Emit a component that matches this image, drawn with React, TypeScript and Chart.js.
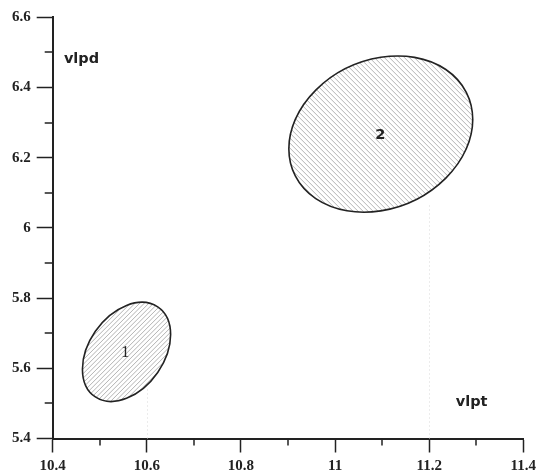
import React, { useEffect, useRef } from 'react';
import { Chart, registerables } from 'chart.js';

Chart.register(...registerables);

// ---- data ----
const xTicks = [10.4, 10.6, 10.8, 11, 11.2, 11.4];
const yTicks = [5.4, 5.6, 5.8, 6, 6.2, 6.4, 6.6];

// regions: centre and two conjugate semi-diameters (data units)
const regionNames = ['1', '2'];
const regionCX = [10.5569, 11.0972];
const regionCY = [5.6468, 6.2673];
const regionAX = [0.0937, 0.1954]; // semi-diameter to the rightmost point
const regionAY = [0.0492, 0.0415];
const regionBX = [0, 0]; // conjugate (vertical) semi-diameter
const regionBY = [0.1324, 0.2187];

const regionLabelX = [10.5544, 11.0963];
const regionLabelY = [5.6441, 6.2643];

const axisNames = ['vlpd', 'vlpt'];
const axisNameX = [10.4238, 11.2564];
const axisNameY = [6.47, 5.492];

const dropLineX = [10.6, 11.2];
const dropLineTop = [5.54, 6.07];

// ---- styles ----
const INK = '#222';
const hatchDir = ['/', '\\'];
const hatchStep = [4.6, 5];
const regionLabelFont = ['16px "Liberation Serif", serif', 'bold 14.5px "DejaVu Sans", sans-serif'];
const axisNameFont = 'bold 14.5px "DejaVu Sans", sans-serif';
const tickFont = { family: '"Liberation Serif", serif', weight: 'bold' as const, size: 15 };

function regionPath(ctx: CanvasRenderingContext2D, xs: any, ys: any, i: number) {
  const cx = xs.getPixelForValue(regionCX[i]);
  const cy = ys.getPixelForValue(regionCY[i]);
  const ax = xs.getPixelForValue(regionCX[i] + regionAX[i]) - cx;
  const ay = ys.getPixelForValue(regionCY[i] + regionAY[i]) - cy;
  const bx = xs.getPixelForValue(regionCX[i] + regionBX[i]) - cx;
  const by = ys.getPixelForValue(regionCY[i] + regionBY[i]) - cy;
  ctx.save();
  ctx.transform(ax, ay, bx, by, cx, cy);
  ctx.beginPath();
  ctx.arc(0, 0, 1, 0, Math.PI * 2);
  ctx.closePath();
  ctx.restore();
  return {
    minX: cx - Math.hypot(ax, bx), maxX: cx + Math.hypot(ax, bx),
    minY: cy - Math.hypot(ay, by), maxY: cy + Math.hypot(ay, by),
  };
}

const regionPlugin = {
  id: 'regionPlugin',
  afterDatasetsDraw(chart: any) {
    const ctx: CanvasRenderingContext2D = chart.ctx;
    const xs = chart.scales.x;
    const ys = chart.scales.y;

    // faint drop lines
    ctx.save();
    ctx.strokeStyle = '#d8d8d8';
    ctx.lineWidth = 1;
    ctx.setLineDash([1, 3]);
    dropLineX.forEach((v, i) => {
      const px = Math.round(xs.getPixelForValue(v)) + 0.5;
      ctx.beginPath();
      ctx.moveTo(px, ys.getPixelForValue(5.4));
      ctx.lineTo(px, ys.getPixelForValue(dropLineTop[i]));
      ctx.stroke();
    });
    ctx.restore();

    regionNames.forEach((_, di) => {
      // hatch
      ctx.save();
      let { minX, maxX, minY, maxY } = regionPath(ctx, xs, ys, di);
      ctx.clip();
      minX -= 10; maxX += 10; minY -= 10; maxY += 10;
      ctx.strokeStyle = '#9a9a9a';
      ctx.lineWidth = 0.75;
      ctx.beginPath();
      const s = hatchStep[di];
      if (hatchDir[di] === '/') {
        for (let k = minX + minY; k <= maxX + maxY; k += s) {
          ctx.moveTo(minX, k - minX);
          ctx.lineTo(maxX, k - maxX);
        }
      } else {
        for (let k = minY - maxX; k <= maxY - minX; k += s) {
          ctx.moveTo(minX, k + minX);
          ctx.lineTo(maxX, k + maxX);
        }
      }
      ctx.stroke();
      ctx.restore();
      // outline
      ctx.save();
      regionPath(ctx, xs, ys, di);
      ctx.strokeStyle = INK;
      ctx.lineWidth = 1.6;
      ctx.stroke();
      ctx.restore();
    });

    // region labels
    ctx.save();
    ctx.fillStyle = INK;
    ctx.textAlign = 'center';
    ctx.textBaseline = 'middle';
    regionNames.forEach((t, i) => {
      ctx.font = regionLabelFont[i];
      ctx.fillText(t, xs.getPixelForValue(regionLabelX[i]), ys.getPixelForValue(regionLabelY[i]));
    });
    // axis names
    ctx.font = axisNameFont;
    ctx.textAlign = 'left';
    ctx.textBaseline = 'alphabetic';
    axisNames.forEach((t, i) => {
      ctx.fillText(t, xs.getPixelForValue(axisNameX[i]), ys.getPixelForValue(axisNameY[i]));
    });
    ctx.restore();
  },
  afterDraw(chart: any) {
    // minor ticks halfway between major ticks
    const ctx: CanvasRenderingContext2D = chart.ctx;
    const xs = chart.scales.x;
    const ys = chart.scales.y;
    const area = chart.chartArea;
    ctx.save();
    ctx.strokeStyle = INK;
    ctx.lineWidth = 1.5;
    ctx.beginPath();
    for (let i = 0; i < xTicks.length - 1; i++) {
      const px = Math.round(xs.getPixelForValue((xTicks[i] + xTicks[i + 1]) / 2));
      ctx.moveTo(px, area.bottom);
      ctx.lineTo(px, area.bottom + 7);
    }
    for (let i = 0; i < yTicks.length - 1; i++) {
      const py = Math.round(ys.getPixelForValue((yTicks[i] + yTicks[i + 1]) / 2));
      ctx.moveTo(area.left, py);
      ctx.lineTo(area.left - 8, py);
    }
    ctx.stroke();
    ctx.restore();
  },
};

export default function App() {
  const ref = useRef<HTMLCanvasElement | null>(null);
  useEffect(() => {
    if (!ref.current) return;
    const chart = new Chart(ref.current, {
      type: 'scatter',
      data: {
        datasets: regionNames.map((name, i) => ({
          label: name,
          data: [{ x: regionCX[i], y: regionCY[i] }],
          pointRadius: 0,
          showLine: false,
        })),
      },
      options: {
        animation: false,
        responsive: true,
        maintainAspectRatio: false,
        events: [],
        layout: { padding: { left: 0, top: 17.3, right: 13.5, bottom: 0 } },
        plugins: { legend: { display: false }, tooltip: { enabled: false } },
        scales: {
          x: {
            type: 'linear',
            min: 10.4,
            max: 11.4,
            afterBuildTicks: (s: any) => { s.ticks = xTicks.map((v) => ({ value: v })); },
            afterFit: (s: any) => { s.height = 33.5; },
            grid: { drawOnChartArea: false, drawTicks: true, tickLength: 14, tickColor: INK, tickWidth: 1.5 },
            border: { color: INK, width: 2 },
            ticks: { padding: 5, color: INK, font: tickFont, maxRotation: 0, autoSkip: false, callback: (v: any) => String(v) },
          },
          y: {
            type: 'linear',
            min: 5.4,
            max: 6.6,
            afterBuildTicks: (s: any) => { s.ticks = yTicks.map((v) => ({ value: v })); },
            afterFit: (s: any) => { s.width = 52.7; },
            grid: { drawOnChartArea: false, drawTicks: true, tickLength: 16, tickColor: INK, tickWidth: 1.5 },
            border: { color: INK, width: 2 },
            ticks: { padding: 6, color: INK, font: tickFont, autoSkip: false, callback: (v: any) => String(v) },
          },
        },
      },
      plugins: [regionPlugin],
    } as any);
    return () => chart.destroy();
  }, []);
  return (
    <div style={{ position: 'absolute', left: 0, top: 0, width: 541, height: 472, background: '#fff' }}>
      <canvas ref={ref} />
    </div>
  );
}
